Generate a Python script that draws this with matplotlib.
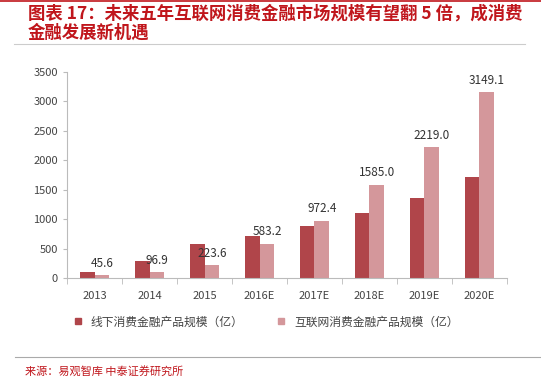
import matplotlib.pyplot as plt
import numpy as np
from matplotlib.lines import Line2D

plt.rcParams['font.family'] = ['Noto Sans CJK SC', 'DejaVu Sans']

years = ["2013", "2014", "2015", "2016E", "2017E", "2018E", "2019E", "2020E"]
offline = [107, 290, 580, 710, 890, 1105, 1365, 1710]
online = [45.6, 96.9, 223.6, 583.2, 972.4, 1585.0, 2219.0, 3149.1]
yticks = [0, 500, 1000, 1500, 2000, 2500, 3000, 3500]

dark = '#B0454A'
light = '#D4979B'

fig = plt.figure(figsize=(5.41, 3.84), dpi=100)
ax = fig.add_axes([0.124, 0.276, 0.813, 0.537])

x = np.arange(len(years))
w = 0.27
ax.bar(x - w / 2, offline, w, color=dark, label='线下消费金融产品规模（亿）')
ax.bar(x + w / 2, online, w, color=light, label='互联网消费金融产品规模（亿）')

for xi, v in zip(x, online):
    ax.text(xi + w / 2, v + 90, f"{v:.1f}", ha='center', va='bottom', fontsize=8.5, color='#333333')

ax.set_xlim(-0.5, len(years) - 0.5)
ax.set_ylim(0, 3500)
ax.set_yticks(yticks)
ax.set_xticks(x)
ax.set_xticklabels(years)
ax.set_xticks(np.arange(len(years) + 1) - 0.5, minor=True)
ax.tick_params(axis='x', which='major', length=0, labelsize=8, colors='#444444', pad=9)
ax.tick_params(axis='x', which='minor', length=4, color='#BBBBBB')
ax.tick_params(axis='y', length=3, color='#BBBBBB', labelsize=8, colors='#444444')
for s in ['top', 'right']:
    ax.spines[s].set_visible(False)
for s in ['left', 'bottom']:
    ax.spines[s].set_color('#BBBBBB')
    ax.spines[s].set_linewidth(0.8)

handles = [Line2D([], [], marker='s', ls='', color=dark, markersize=5),
           Line2D([], [], marker='s', ls='', color=light, markersize=5)]
fig.legend(handles, ['线下消费金融产品规模（亿）', '互联网消费金融产品规模（亿）'],
           loc='center', bbox_to_anchor=(0.485, 0.162), ncol=2, frameon=False,
           fontsize=8.5, handletextpad=0.1, columnspacing=2.2, labelcolor='#444444')

fig.text(0.052, 0.966, '图表 17：未来五年互联网消费金融市场规模有望翻 5 倍，成消费',
         fontsize=12.5, color='#C0161C', weight='bold', va='center')
fig.text(0.052, 0.914, '金融发展新机遇', fontsize=12.5, color='#C0161C', weight='bold', va='center')

fig.add_artist(Line2D([0.0, 1.0], [0.998, 0.998], color='#C0161C', lw=1.2))
fig.add_artist(Line2D([0.025, 0.97], [0.886, 0.886], color='#CCCCCC', lw=0.8))
fig.add_artist(Line2D([0.028, 1.0], [0.07, 0.07], color='#AAAAAA', lw=0.8))
fig.text(0.046, 0.034, '来源：易观智库 中泰证券研究所', fontsize=8, color='#C0161C', va='center')

fig.savefig('out.png', dpi=100)
